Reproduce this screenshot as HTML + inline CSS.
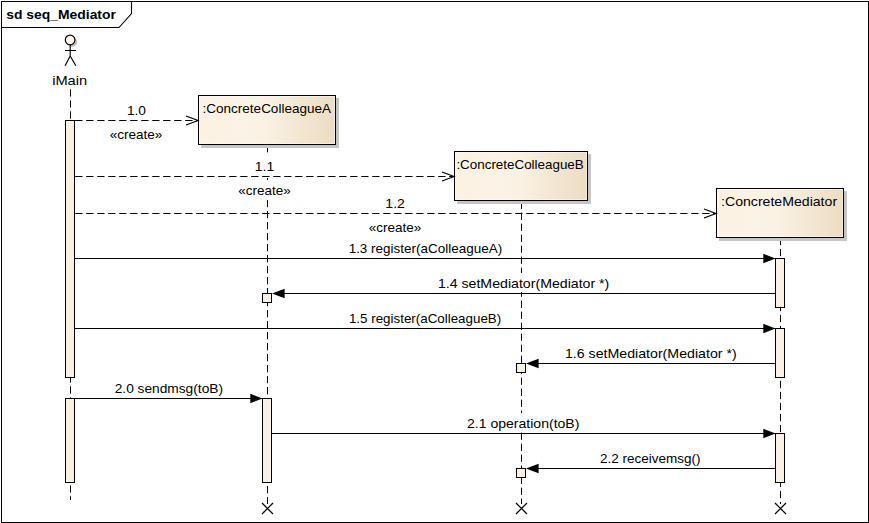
<!DOCTYPE html>
<html><head><meta charset="utf-8"><title>sd seq_Mediator</title>
<style>
html,body{margin:0;padding:0;background:#fff;}
body{width:869px;height:523px;overflow:hidden;font-family:"Liberation Sans",sans-serif;}
svg{display:block;}
</style></head><body>
<svg width="869" height="523" viewBox="0 0 869 523">
<defs>
<linearGradient id="g" x1="0" y1="0" x2="1" y2="0">
<stop offset="0" stop-color="#fcf1e2"/><stop offset="0.3" stop-color="#fbf3e6"/><stop offset="0.5" stop-color="#faf1e2"/><stop offset="1" stop-color="#ecdcc2"/>
</linearGradient>
</defs>
<rect x="0" y="0" width="869" height="523" fill="#fff"/>
<rect x="1.5" y="1.5" width="867" height="521" fill="none" stroke="#000" stroke-width="1" shape-rendering="crispEdges"/>
<path d="M1.5 27.5 H119 L131.5 13.5 V1.5" fill="none" stroke="#000" stroke-width="1.1"/>
<g stroke="#000" stroke-width="1" stroke-dasharray="7.3 3.7" fill="none">
<path d="M70.5 89.3 V500"/>
<path d="M267.5 145 V504"/>
<path d="M521.5 201.6 V504"/>
<path d="M780.5 237.9 V504"/>
</g>
<g stroke="#000" stroke-width="1" stroke-dasharray="7.3 3.7" fill="none">
<path d="M75.2 120.5 H198"/>
<path d="M75.2 176.5 H454"/>
<path d="M75.2 213.5 H716"/>
</g>
<rect x="201.0" y="98.0" width="138" height="50" fill="#c6c6c6"/><rect x="198.5" y="95.5" width="137" height="49" fill="url(#g)" stroke="#000" stroke-width="1" shape-rendering="crispEdges"/><rect x="199.5" y="96.5" width="135" height="47" fill="none" stroke="#fff" stroke-opacity="0.45" stroke-width="1" shape-rendering="crispEdges"/>
<rect x="457.0" y="154.0" width="134" height="50" fill="#c6c6c6"/><rect x="454.5" y="151.5" width="133" height="49" fill="url(#g)" stroke="#000" stroke-width="1" shape-rendering="crispEdges"/><rect x="455.5" y="152.5" width="131" height="47" fill="none" stroke="#fff" stroke-opacity="0.45" stroke-width="1" shape-rendering="crispEdges"/>
<rect x="719.0" y="191.0" width="128" height="50" fill="#c6c6c6"/><rect x="716.5" y="188.5" width="127" height="49" fill="url(#g)" stroke="#000" stroke-width="1" shape-rendering="crispEdges"/><rect x="717.5" y="189.5" width="125" height="47" fill="none" stroke="#fff" stroke-opacity="0.45" stroke-width="1" shape-rendering="crispEdges"/>
<g shape-rendering="crispEdges" stroke="#000" stroke-width="1" fill="none">
<path d="M75 258.5 H775"/>
<path d="M284 293.5 H775"/>
<path d="M75 328.5 H775"/>
<path d="M538 363.5 H775"/>
<path d="M75 398.5 H262"/>
<path d="M272 433.5 H775"/>
<path d="M538 468.5 H775"/>
</g>
<g shape-rendering="crispEdges" stroke="#000" stroke-width="1" fill="#faf0e3">
<rect x="65.5" y="120.5" width="9" height="257"/>
<rect x="65.5" y="398.5" width="9" height="84"/>
<rect x="262.5" y="398.5" width="9" height="84"/>
<rect x="775.5" y="258.5" width="9" height="49"/>
<rect x="775.5" y="328.5" width="9" height="49"/>
<rect x="775.5" y="433.5" width="9" height="49"/>
<rect x="262.5" y="293.5" width="9" height="9"/>
<rect x="516.5" y="363.5" width="9" height="9"/>
<rect x="516.5" y="468.5" width="9" height="9"/>
</g>
<g fill="#000" stroke="none">
<path d="M775.5 258.5 L763.3 253.8 V263.2 Z"/>
<path d="M775.5 328.5 L763.3 323.8 V333.2 Z"/>
<path d="M262.5 398.5 L250.3 393.8 V403.2 Z"/>
<path d="M775.5 433.5 L763.3 428.8 V438.2 Z"/>
<path d="M272 293.5 L284.6 288.8 V298.2 Z"/>
<path d="M526 363.5 L538.6 358.8 V368.2 Z"/>
<path d="M526 468.5 L538.6 463.8 V473.2 Z"/>
</g>
<g fill="none" stroke="#000" stroke-width="1.2">
<path d="M186 116.0 L198 120.5 L186 125.0"/>
<path d="M442 172.0 L454 176.5 L442 181.0"/>
<path d="M704 209.0 L716 213.5 L704 218.0"/>
<path d="M262.0 503 L273.0 514 M273.0 503 L262.0 514"/>
<path d="M516.0 503 L527.0 514 M527.0 503 L516.0 514"/>
<path d="M775.0 503 L786.0 514 M786.0 503 L775.0 514"/>
</g>
<circle cx="72" cy="42" r="5" fill="#bdbdbd"/>
<g fill="none" stroke="#000" stroke-width="1.15">
<circle cx="70.1" cy="39.9" r="4.8" fill="#fcf3ea"/>
<path d="M70.2 45 V56 M65 50.5 H76 M70.2 56 L65.1 65.8 M70.2 56 L75.9 65.8"/>
</g>
<g font-family="Liberation Sans, sans-serif" fill="#000">
<text x="6.24" y="19" font-size="13.33" font-weight="bold" textLength="109.67" lengthAdjust="spacingAndGlyphs">sd seq_Mediator</text>
<text x="52.17" y="85" font-size="13.33" textLength="35.00" lengthAdjust="spacingAndGlyphs">iMain</text>
<text x="202.61" y="113" font-size="13.33" textLength="128.31" lengthAdjust="spacingAndGlyphs">:ConcreteColleagueA</text>
<text x="456.40" y="169" font-size="13.33" textLength="127.36" lengthAdjust="spacingAndGlyphs">:ConcreteColleagueB</text>
<text x="721.05" y="206" font-size="13.33" textLength="116.03" lengthAdjust="spacingAndGlyphs">:ConcreteMediator</text>
<rect x="126.3" y="100" width="20.5" height="19" fill="#fff"/><text x="126.94" y="115" font-size="13.33" textLength="19.04" lengthAdjust="spacingAndGlyphs">1.0</text>
<rect x="109.1" y="124" width="54.4" height="19" fill="#fff"/><text x="109.76" y="139" font-size="13.33" textLength="52.65" lengthAdjust="spacingAndGlyphs">«create»</text>
<rect x="254.4" y="156" width="20.5" height="19" fill="#fff"/><text x="254.70" y="171" font-size="13.33" textLength="19.50" lengthAdjust="spacingAndGlyphs">1.1</text>
<rect x="237.4" y="180" width="54.0" height="19" fill="#fff"/><text x="238.17" y="195" font-size="13.33" textLength="52.53" lengthAdjust="spacingAndGlyphs">«create»</text>
<rect x="384.9" y="193" width="20.9" height="19" fill="#fff"/><text x="385.37" y="208" font-size="13.33" textLength="19.53" lengthAdjust="spacingAndGlyphs">1.2</text>
<rect x="368.1" y="217" width="54.3" height="19" fill="#fff"/><text x="368.76" y="232" font-size="13.33" textLength="52.64" lengthAdjust="spacingAndGlyphs">«create»</text>
<rect x="348.2" y="238" width="154.8" height="19" fill="#fff"/><text x="348.65" y="253" font-size="13.33" textLength="153.49" lengthAdjust="spacingAndGlyphs">1.3 register(aColleagueA)</text>
<rect x="437.3" y="273" width="172.9" height="19" fill="#fff"/><text x="437.90" y="288" font-size="13.33" textLength="171.46" lengthAdjust="spacingAndGlyphs">1.4 setMediator(Mediator *)</text>
<rect x="348.3" y="308" width="153.7" height="19" fill="#fff"/><text x="348.95" y="323" font-size="13.33" textLength="152.24" lengthAdjust="spacingAndGlyphs">1.5 register(aColleagueB)</text>
<rect x="564.3" y="343" width="173.1" height="19" fill="#fff"/><text x="564.90" y="358" font-size="13.33" textLength="171.80" lengthAdjust="spacingAndGlyphs">1.6 setMediator(Mediator *)</text>
<rect x="114.1" y="378" width="109.4" height="19" fill="#fff"/><text x="114.71" y="393" font-size="13.33" textLength="108.29" lengthAdjust="spacingAndGlyphs">2.0 sendmsg(toB)</text>
<rect x="466.5" y="413" width="113.8" height="19" fill="#fff"/><text x="467.00" y="428" font-size="13.33" textLength="112.42" lengthAdjust="spacingAndGlyphs">2.1 operation(toB)</text>
<rect x="599.3" y="448" width="102.0" height="19" fill="#fff"/><text x="600.07" y="463" font-size="13.33" textLength="100.50" lengthAdjust="spacingAndGlyphs">2.2 receivemsg()</text>
</g>
</svg>
</body></html>
